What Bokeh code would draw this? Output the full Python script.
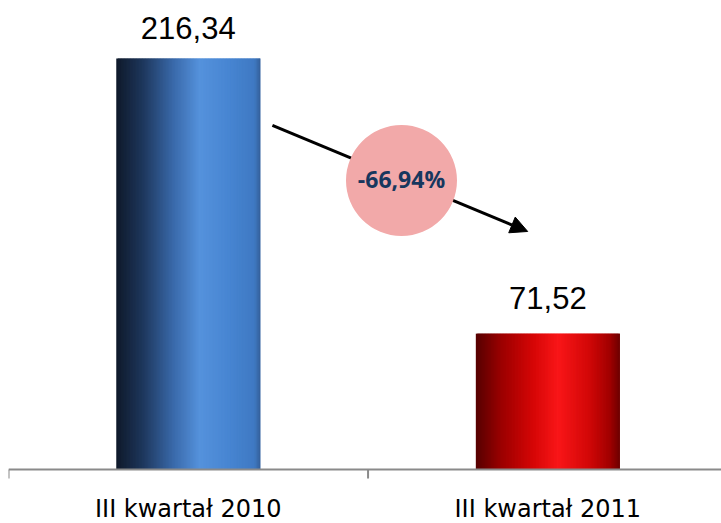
import numpy as np
from bokeh.plotting import figure
from bokeh.models import Range1d, Arrow, NormalHead, Span, ColumnDataSource
from bokeh.core.properties import value
from bokeh.embed import file_html
from bokeh.resources import INLINE

# ---- data ----
categories = ["III kwartał 2010", "III kwartał 2011"]
values = [216.34, 71.52]
value_labels = ["216,34", "71,52"]

change = (values[1] - values[0]) / values[0] * 100
change_label = f"{change:.2f}%".replace(".", ",")

# ---- style ----
blue_stops = [(0.0, "#0f192a"), (0.18, "#1d365b"), (0.40, "#3a6aab"), (0.58, "#5592dc"),
              (0.80, "#4684d1"), (0.96, "#3f79c2"), (1.0, "#345f99")]
red_stops = [(0.0, "#560000"), (0.18, "#9c0000"), (0.40, "#d60606"), (0.57, "#f91618"),
             (0.78, "#d30808"), (0.93, "#a10000"), (1.0, "#6c0000")]
label_offsets = [-31, -36]
bar_width = 0.4006
n_strips = 96
axis_color = "#8a8a8a"
tick_len = 4.74  # ~9 px in value units


def hex2rgb(h):
    h = h.lstrip("#")
    return np.array([int(h[i:i + 2], 16) for i in (0, 2, 4)], dtype=float)


def grad(stops, t):
    pos = [s[0] for s in stops]
    cols = np.array([hex2rgb(s[1]) for s in stops])
    r = np.interp(t, pos, cols[:, 0])
    g = np.interp(t, pos, cols[:, 1])
    b = np.interp(t, pos, cols[:, 2])
    return "#%02x%02x%02x" % (int(round(r)), int(round(g)), int(round(b)))


n = len(categories)
xs = np.arange(n) + 0.5
boundaries = np.arange(n + 1)

p = figure(width=721, height=523, output_backend="svg", toolbar_location=None,
           x_range=Range1d(0, 1.983), y_range=Range1d(-28.42, 246.87),
           x_axis_location=None, y_axis_location=None,
           min_border_left=8, min_border_right=0, min_border_top=0, min_border_bottom=0)
p.outline_line_color = None
p.grid.visible = False
p.background_fill_color = "white"

# gradient bars built from thin overlapping strips
ql, qr, qt, qc = [], [], [], []
for i, (x, v) in enumerate(zip(xs, values)):
    stops = blue_stops if i == 0 else red_stops
    left = x - bar_width / 2
    right = x + bar_width / 2
    w = bar_width / n_strips
    for k in range(n_strips):
        t = (k + 0.5) / n_strips
        ql.append(left + k * w)
        qr.append(min(left + (k + 2) * w, right))
        qt.append(v)
        qc.append(grad(stops, t))
p.quad(left=ql, right=qr, top=qt, bottom=0, fill_color=qc, line_color=None)

# category axis: baseline, boundary ticks, labels
p.add_layout(Span(location=0, dimension="width", line_color=axis_color, line_width=2))
p.segment(x0=boundaries, y0=[0] * (n + 1), x1=boundaries, y1=[-tick_len] * (n + 1),
          line_color=axis_color, line_width=2)
p.text(x=xs, y=[0] * n, text=categories, y_offset=39,
       text_align="center", text_baseline="alphabetic",
       text_font=value("DejaVu Sans"), text_font_size="24px", text_color="black")

# value labels
vsrc = ColumnDataSource(dict(x=xs, y=values, text=value_labels, off=label_offsets))
p.text(x="x", y="y", text="text", y_offset="off", source=vsrc,
       text_align="center", text_baseline="alphabetic",
       text_font=value("Liberation Sans"), text_font_size="31px", text_color="black")

# arrow + percent bubble
arrow = Arrow(x_start=0.734, y_start=181.1, x_end=1.444, y_end=125.3,
              line_width=3, line_color="black",
              end=NormalHead(size=17, fill_color="black", line_color="black"),
              level="underlay")
p.add_layout(arrow)
p.scatter(x=[1.093], y=[152.1], size=111, fill_color="#f2a9a9", line_color=None)
p.text(x=[1.093], y=[152.1], text=[change_label], text_align="center", text_baseline="middle",
       text_font=value("Open Sans"), text_font_style="bold", text_font_size="23px",
       text_color="#17375e", y_offset=-2)

open("out.html", "w").write(file_html(p, INLINE))
